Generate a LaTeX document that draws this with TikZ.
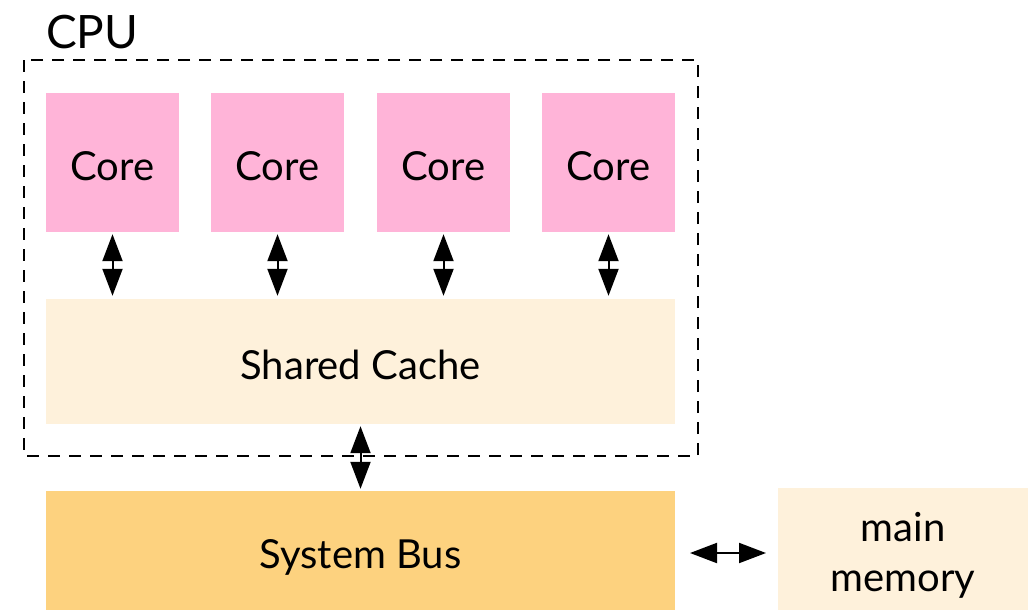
\documentclass[tikz,border=0pt]{standalone}
\usepackage{fontspec}
\setmainfont{Lato}
\usetikzlibrary{arrows.meta}
\definecolor{corepink}{HTML}{FFB4D8}
\definecolor{cachecream}{HTML}{FEF1DB}
\definecolor{busorange}{HTML}{FDD27F}
\tikzset{
  box/.style={draw=none, inner sep=0pt, font=\fontsize{40}{50}\selectfont, text height=36pt, text depth=0pt},
  corebox/.style={box, fill=corepink, minimum width=133pt, minimum height=139pt},
  link/.style={{Triangle[width=20pt,length=27pt]}-{Triangle[width=20pt,length=27pt]}, line width=2pt, black},
}
\begin{document}
\begin{tikzpicture}[x=1pt,y=-1pt]
\useasboundingbox (0,0) rectangle (1028,611);
\draw[line width=2.4pt, dash pattern=on 12pt off 9pt] (24,60) rectangle (698,456);
\node[anchor=base west, font=\fontsize{46}{52}\selectfont, inner sep=0pt] (cpu) at (46,48) {CPU};
\node[corebox] (c1) at (112.5,162.5) {Core};
\node[corebox] (c2) at (277.5,162.5) {Core};
\node[corebox] (c3) at (443.5,162.5) {Core};
\node[corebox] (c4) at (608.5,162.5) {Core};
\node[box, fill=cachecream, minimum width=629pt, minimum height=125pt] (cache) at (360.5,361.5) {Shared Cache};
\node[box, fill=busorange, minimum width=629pt, minimum height=119pt] (bus) at (360.5,550.5) {System Bus};
\node[draw=none, inner sep=0pt, font=\fontsize{40}{50}\selectfont, fill=cachecream, minimum width=250pt, minimum height=122pt, align=center] (mem) at (903,549) {\rule{0pt}{42pt}main\\memory};
\foreach \c in {c1,c2,c3,c4}{
  \draw[link] ([yshift=-2pt]\c.south) -- ([yshift=3pt]\c.south |- cache.north);
}
\draw[link] ([yshift=-2pt]cache.south) -- ([yshift=2pt]bus.north);
\coordinate (hl) at (690,553);
\coordinate (hr) at (766,553);
\draw[link] (hl) -- (hr);
\end{tikzpicture}
\end{document}
